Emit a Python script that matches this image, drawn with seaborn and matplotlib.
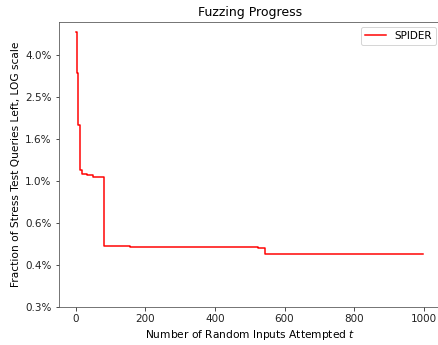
import numpy as np
import pandas as pd
import matplotlib
matplotlib.use("Agg")
import matplotlib.pyplot as plt
import matplotlib.ticker as mticker
import seaborn as sns

# Data: step change points (attempt index, fraction of queries left in %)
attempts = [0, 3, 5, 11, 12, 18, 31, 50, 81, 82, 155, 201, 262, 524, 545, 999]
frac_left_pct = [5.12, 3.26, 1.84, 1.73, 1.125, 1.077, 1.065, 1.045, 1.04,
                 0.489, 0.486, 0.484, 0.482, 0.480, 0.448, 0.448]
series_name = "SPIDER"

ytick_vals = [0.251, 0.398, 0.631, 1.0, 1.585, 2.512, 3.981]
ytick_labels = ["0.3%", "0.4%", "0.6%", "1.0%", "1.6%", "2.5%", "4.0%"]
xtick_vals = [0, 200, 400, 600, 800, 1000]

df = pd.DataFrame({"t": attempts, "frac": np.array(frac_left_pct) / 100.0})

W, H, DPI = 438, 345, 72
fig = plt.figure(figsize=(W / DPI, H / DPI), dpi=DPI)
ax = fig.add_axes([58.5 / W, 1 - 306.7 / H, (441 - 58.5) / W, (306.7 - 21.7) / H])

sns.lineplot(data=df, x="t", y="frac", drawstyle="steps-post", color="red",
             linewidth=1.5, label=series_name, ax=ax)

ax.set_yscale("log")
ax.set_ylim(10 ** -2.6, 10 ** -1.24)
ax.set_xlim(-50, 1050)
ax.set_yticks(np.array(ytick_vals) / 100.0)
ax.set_yticklabels(ytick_labels)
ax.yaxis.set_minor_locator(mticker.NullLocator())
ax.set_xticks(xtick_vals)
ax.tick_params(labelsize=10.4, colors="#222222")
for s in ax.spines.values():
    s.set_color("#555555")

ax.set_title("Fuzzing Progress", fontsize=12.5)
ax.set_xlabel("Number of Random Inputs Attempted $t$", fontsize=10.6)
ax.set_ylabel("Fraction of Stress Test Queries Left, LOG scale", fontsize=10.6)
ax.legend(loc="upper right", fontsize=10.4)

fig.savefig("out.png", dpi=DPI)
